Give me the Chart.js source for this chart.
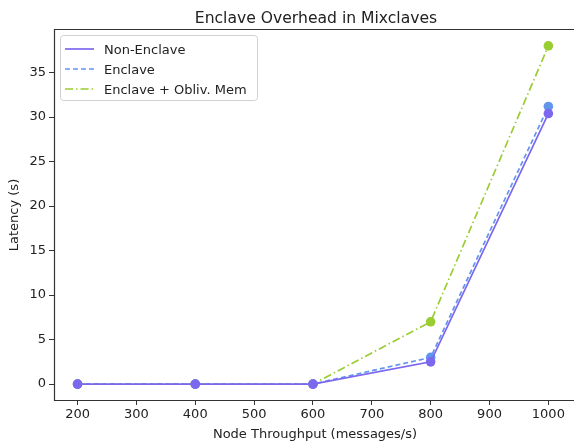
<!DOCTYPE html>
<html>
<head>
<meta charset="utf-8">
<script src="https://cdn.jsdelivr.net/npm/chart.js@4.4.1/dist/chart.umd.min.js"></script>
<style>
  html, body { margin: 0; padding: 0; background: #fff; }
  #wrap { width: 574px; height: 447px; }
</style>
</head>
<body>
<div id="wrap"><canvas id="myChart" width="574" height="447"></canvas></div>
<script>
const throughput = [200, 400, 600, 800, 1000];
const nonEnclave = [0, 0, 0, 2.5, 30.4];
const enclave = [0, 0, 0, 3.0, 31.2];
const enclaveObliv = [0, 0, 0, 7.0, 38.0];
const seriesNames = ['Non-Enclave', 'Enclave', 'Enclave + Obliv. Mem'];
const xTicks = [200, 300, 400, 500, 600, 700, 800, 900, 1000];
const yTicks = [0, 5, 10, 15, 20, 25, 30, 35];

const FONT = 'DejaVu Sans, sans-serif';
const colors = ['#7b68ee', '#6495ed', '#9acd32'];
const dashes = [[], [5, 3], [8, 3, 1.5, 3]];

function toPoints(vals) {
    return throughput.map((x, i) => ({ x: x, y: vals[i] }));
}

const datasets = [nonEnclave, enclave, enclaveObliv].map((vals, i) => ({
    label: seriesNames[i],
    data: toPoints(vals),
    borderColor: colors[i],
    backgroundColor: colors[i],
    borderWidth: 1.7,
    borderDash: dashes[i],
    pointRadius: 4.8,
    pointBorderWidth: 0,
    pointHoverRadius: 4.8,
    tension: 0
}));

// matplotlib style frame, title, axis labels and in-plot legend
const mplDecor = {
    id: 'mplDecor',
    afterDraw(chart) {
        const ctx = chart.ctx;
        const a = chart.chartArea;
        const W = chart.width;
        ctx.save();
        ctx.strokeStyle = '#333';
        ctx.lineWidth = 1.2;
        ctx.setLineDash([]);
        // left, top and bottom spines; the right one falls just off the canvas
        ctx.beginPath();
        ctx.moveTo(W, a.top + 0.5);
        ctx.lineTo(a.left + 0.5, a.top + 0.5);
        ctx.lineTo(a.left + 0.5, a.bottom - 0.5);
        ctx.lineTo(W, a.bottom - 0.5);
        ctx.stroke();

        ctx.fillStyle = '#222';
        ctx.font = '15.6px ' + FONT;
        ctx.textAlign = 'center';
        ctx.textBaseline = 'alphabetic';
        ctx.fillText('Enclave Overhead in Mixclaves', 316, 23);

        ctx.font = '13px ' + FONT;
        ctx.textBaseline = 'middle';
        ctx.fillText('Node Throughput (messages/s)', 315, 435);
        ctx.save();
        ctx.translate(15, (a.top + a.bottom) / 2);
        ctx.rotate(-Math.PI / 2);
        ctx.fillText('Latency (s)', 0, 0);
        ctx.restore();

        // legend box
        const lx = 60, ly = 35, lw = 197, lh = 65;
        ctx.fillStyle = 'rgba(255,255,255,0.85)';
        ctx.strokeStyle = '#d0d0d0';
        ctx.lineWidth = 1;
        ctx.beginPath();
        ctx.roundRect(lx + 0.5, ly + 0.5, lw, lh, 3);
        ctx.fill();
        ctx.stroke();
        ctx.font = '13px ' + FONT;
        ctx.textAlign = 'left';
        ctx.textBaseline = 'alphabetic';
        seriesNames.forEach((name, i) => {
            const y = 49 + i * 20;
            ctx.strokeStyle = colors[i];
            ctx.lineWidth = 1.7;
            ctx.setLineDash(dashes[i]);
            ctx.beginPath();
            ctx.moveTo(65, y);
            ctx.lineTo(94, y);
            ctx.stroke();
            ctx.setLineDash([]);
            ctx.fillStyle = '#222';
            ctx.fillText(name, 104, y + 5);
        });
        ctx.restore();
    }
};

const ctx = document.getElementById('myChart').getContext('2d');
new Chart(ctx, {
    type: 'line',
    data: { datasets: datasets },
    options: {
        responsive: false,
        animation: false,
        layout: { padding: { top: 29, right: 0, left: 0, bottom: 0 } },
        scales: {
            x: {
                type: 'linear',
                min: 160,
                max: 1035.4,
                afterBuildTicks: axis => { axis.ticks = xTicks.map(v => ({ value: v })); },
                afterFit: axis => { axis.height = 46; },
                grid: { drawOnChartArea: false, drawTicks: true, tickLength: 4, color: '#333', tickColor: '#333' },
                border: { display: false },
                ticks: { color: '#222', font: { family: FONT, size: 13 }, padding: 2, maxRotation: 0, callback: v => String(v) }
            },
            y: {
                type: 'linear',
                min: -1.9,
                max: 39.9,
                afterBuildTicks: axis => { axis.ticks = yTicks.map(v => ({ value: v })); },
                afterFit: axis => { axis.width = 54; },
                grid: { drawOnChartArea: false, drawTicks: true, tickLength: 5, color: '#333', tickColor: '#333' },
                border: { display: false },
                ticks: { color: '#222', font: { family: FONT, size: 13 }, padding: 3, callback: v => String(v) }
            }
        },
        plugins: {
            legend: { display: false },
            tooltip: { enabled: false }
        }
    },
    plugins: [mplDecor]
});
</script>
</body>
</html>
